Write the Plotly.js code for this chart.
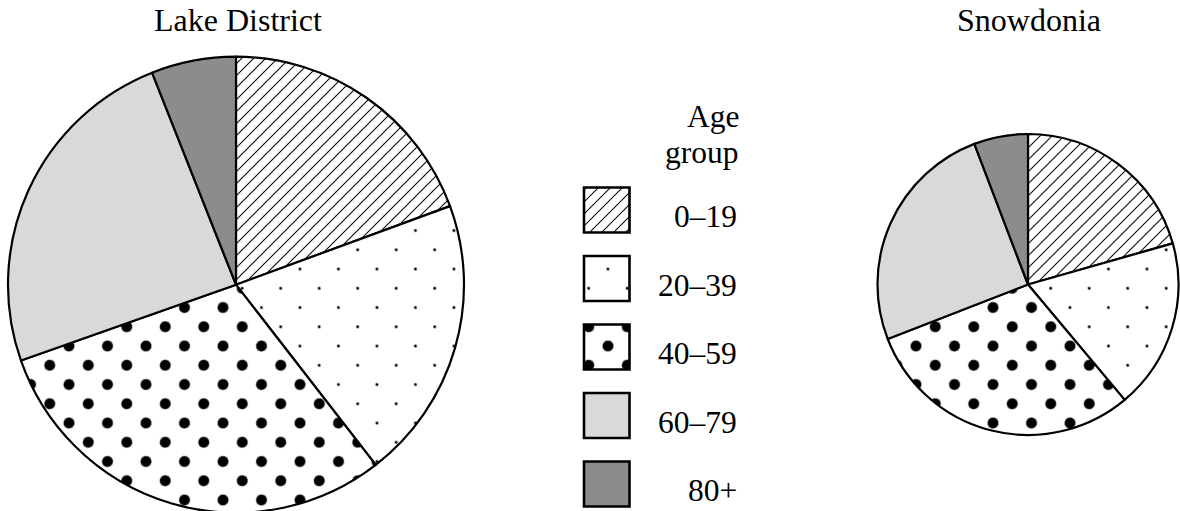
<!DOCTYPE html>
<html>
<head>
<meta charset="utf-8">
<script src="https://cdn.plot.ly/plotly-3.0.1.min.js"></script>
<style>
html,body{margin:0;padding:0;overflow:hidden;background:#ffffff;}
#chart{width:1180px;height:520px;}
</style>
</head>
<body>
<div id="chart"></div>
<script>
// ---- data ----
const ageGroups = ['0–19', '20–39', '40–59', '60–79', '80+'];
const lakeDistrict = [19.4, 20.1, 30.1, 24.4, 6.0];
const snowdonia = [20.6, 18.3, 30.2, 25.1, 5.8];
const regionNames = ['Lake District', 'Snowdonia'];
const legendTitle = ['Age', 'group'];

// ---- styling ----
const W = 1180, H = 520;
const FONT = 'Liberation Serif';
const fills = ['#ffffff', '#ffffff', '#ffffff', '#d9d9d9', '#8c8c8c'];
// for bars, marker.color acts as the pattern foreground in 'replace' mode
const barFills = ['#000000', '#000000', '#000000', '#d9d9d9', '#8c8c8c'];
const STEP = 19.25;                 // half-step of the staggered dot lattice
const DOT = STEP * Math.SQRT2;      // tile size (rotated 45deg after drawing)
const LAT_X = 107.5, LAT_Y = 346;   // one lattice point, page coords

function makePattern() {
  return {
    shape: ['/', '.', '.', '', ''],
    size: [8.485, DOT, DOT, 8, 8],
    solidity: [0.12, 0.0095, 0.128, 0.3, 0.3],
    fgcolor: 'black',
    bgcolor: fills.slice(),
    fillmode: 'replace'
  };
}

function pieTrace(vals, cx, cy, r) {
  return {
    type: 'pie', labels: ageGroups, values: vals,
    sort: false, direction: 'clockwise', rotation: 0,
    textinfo: 'none', hoverinfo: 'skip', showlegend: false,
    marker: {colors: fills, line: {color: 'black', width: 2.2}, pattern: makePattern()},
    domain: {x: [(cx - r) / W, (cx + r) / W], y: [(H - cy - r) / H, (H - cy + r) / H]}
  };
}

// legend swatch geometry (px)
const SW_X0 = 584, SW_W = 45.5, SW_Y0 = 210, SW_GAP = 68.5, SW_H = 45;
const AX_L = 570, AX_R = 760;

const swatches = {
  type: 'bar', orientation: 'h',
  y: ageGroups, x: ageGroups.map(() => 1), base: 0,
  width: SW_H / SW_GAP,
  xaxis: 'x', yaxis: 'y',
  hoverinfo: 'skip', showlegend: false,
  marker: {color: barFills, line: {color: 'black', width: 2.6}, pattern: makePattern()}
};

const traces = [
  pieTrace(lakeDistrict, 236, 284.7, 228),
  pieTrace(snowdonia, 1028, 284.5, 150.5),
  swatches
];

const annotations = [];
const titleX = [237.5, 1029];
regionNames.forEach((n, i) => annotations.push({
  text: n, xref: 'paper', yref: 'paper', x: titleX[i] / W, y: (H - 20.5) / H,
  xanchor: 'center', yanchor: 'middle', showarrow: false,
  font: {family: FONT, size: 32, color: 'black'}
}));
const ltY = [116.5, 153];
legendTitle.forEach((t, i) => annotations.push({
  text: t, xref: 'paper', yref: 'paper', x: 741.5 / W, y: (H - ltY[i]) / H,
  xanchor: 'right', yanchor: 'middle', showarrow: false,
  font: {family: FONT, size: 31.5, color: 'black'}
}));
ageGroups.forEach(g => annotations.push({
  text: g, xref: 'x', yref: 'y', x: (738.5 - SW_X0) / SW_W, y: g, yshift: -6.5,
  xanchor: 'right', yanchor: 'middle', showarrow: false,
  font: {family: FONT, size: 31.5, color: 'black'}
}));

const layout = {
  width: W, height: H,
  margin: {l: 0, r: 0, t: 0, b: 0, pad: 0},
  paper_bgcolor: '#ffffff', plot_bgcolor: 'rgba(0,0,0,0)',
  showlegend: false,
  font: {family: FONT, color: 'black'},
  xaxis: {
    domain: [AX_L / W, AX_R / W],
    range: [(AX_L - SW_X0) / SW_W, (AX_R - SW_X0) / SW_W],
    visible: false, fixedrange: true
  },
  yaxis: {
    domain: [0, 1], type: 'category',
    range: [(H - SW_Y0) / SW_GAP, -SW_Y0 / SW_GAP],
    visible: false, fixedrange: true
  },
  annotations: annotations
};

// turn the square dot grids into the staggered lattice of the reference
function fixPatterns(gd) {
  gd.querySelectorAll('path').forEach(el => {
    const f = (el.style && el.style.fill) || el.getAttribute('fill') || '';
    const m = f.match(/url\(["']?#([^"')]+)["']?\)/);
    if (!m) return;
    const pat = document.getElementById(m[1]);
    if (!pat) return;
    const circ = pat.querySelector('circle');
    if (!circ) return;
    const ctm = el.getCTM();
    const offx = ctm ? ctm.e : 0, offy = ctm ? ctm.f : 0;
    const s = parseFloat(pat.getAttribute('width'));
    pat.setAttribute('patternTransform',
      'translate(' + (LAT_X - offx) + ',' + (LAT_Y - offy) + ') rotate(45) translate(' + (-s / 2) + ',' + (-s / 2) + ')');
  });
}

const gd = document.getElementById('chart');
Plotly.newPlot(gd, traces, layout, {staticPlot: true, displayModeBar: false}).then(() => fixPatterns(gd));
</script>
</body>
</html>
